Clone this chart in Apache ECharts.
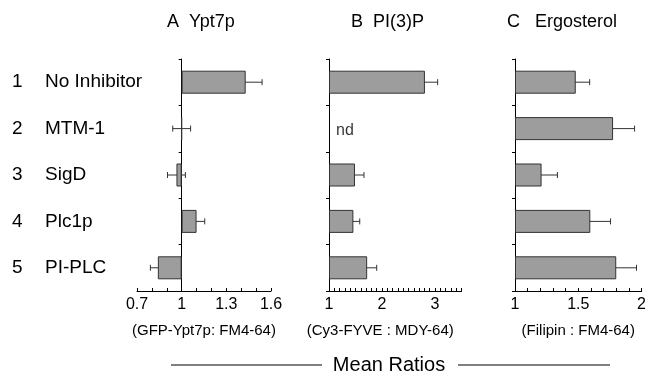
<!DOCTYPE html>
<html>
<head>
<meta charset="utf-8">
<script src="https://cdn.jsdelivr.net/npm/echarts@6/dist/echarts.min.js"></script>
<style>
html,body{margin:0;padding:0;background:#fff;}
#chart{width:649px;height:376px;}
</style>
</head>
<body>
<div id="chart"></div>
<script>
// ---- data ----
const rowNumbers = ['1', '2', '3', '4', '5'];
const categories = ['No Inhibitor', 'MTM-1', 'SigD', 'Plc1p', 'PI-PLC'];

const panelTitles = ['A  Ypt7p', 'B  PI(3)P', 'C   Ergosterol'];
const axisNames = ['(GFP-Ypt7p: FM4-64)', '(Cy3-FYVE : MDY-64)', '(Filipin : FM4-64)'];

const ypt7Values = [1.43, 1.0, 0.965, 1.10, 0.84];
const ypt7Errors = [0.11, 0.06, 0.06, 0.055, 0.05];

const pi3pValues = [2.81, null, 1.49, 1.46, 1.72];
const pi3pErrors = [0.24, null, 0.17, 0.12, 0.18];
const pi3pNotDetermined = ['MTM-1'];
const ndText = 'nd';

const ergoValues = [1.48, 1.775, 1.21, 1.595, 1.80];
const ergoErrors = [0.11, 0.17, 0.125, 0.16, 0.16];

const ypt7Ticks = [0.7, 1, 1.3, 1.6];
const pi3pTicks = [1, 2, 3];
const ergoTicks = [1, 1.5, 2];

const axisMin = [0.7, 1, 1];
const axisMax = [1.6, 3.5, 2];
const minorStep = [0.1, 0.1, 0.1];
const baseline = 1;
const footerText = 'Mean Ratios';

// ---- build ----
const panels = [
  {values: ypt7Values, errors: ypt7Errors, ticks: ypt7Ticks},
  {values: pi3pValues, errors: pi3pErrors, ticks: pi3pTicks},
  {values: ergoValues, errors: ergoErrors, ticks: ergoTicks}
];
const gridBoxes = [
  {left: 137, width: 134},
  {left: 329, width: 132.5},
  {left: 515, width: 132}
];
const FONT = 'Liberation Sans, Arial, sans-serif';

const grids = [], xAxes = [], yAxes = [], series = [];
panels.forEach((p, i) => {
  grids.push({left: gridBoxes[i].left, width: gridBoxes[i].width, top: 59, height: 232});
  const ticks = p.ticks;
  xAxes.push({
    type: 'value', gridIndex: i,
    min: axisMin[i] - baseline, max: axisMax[i] - baseline, interval: minorStep[i],
    splitLine: {show: false},
    axisLine: {show: true, onZero: false, lineStyle: {color: '#000', width: 1}},
    axisTick: {show: true, inside: true, length: 3, lineStyle: {color: '#000'}},
    axisLabel: {
      color: '#000', fontSize: 16, fontFamily: FONT, margin: 6,
      showMinLabel: true, showMaxLabel: true,
      formatter: v => {
        const real = +(v + baseline).toFixed(4);
        return ticks.some(t => Math.abs(t - real) < 1e-6) ? String(real) : '';
      }
    },
    name: axisNames[i], nameLocation: 'middle', nameGap: 32,
    nameTextStyle: {color: '#000', fontSize: 15, fontFamily: FONT,
      padding: i === 1 ? [0, 30, 0, 0] : [0, 0, 0, 0]}
  });
  yAxes.push({
    type: 'category', gridIndex: i, data: categories, inverse: true,
    axisLine: {show: true, onZero: true, lineStyle: {color: '#000', width: 1}},
    axisTick: {show: true, length: 3, lineStyle: {color: '#000'}},
    axisLabel: {show: false},
    splitLine: {show: false}
  });
  series.push({
    type: 'bar', xAxisIndex: i, yAxisIndex: i, barWidth: 23,
    data: p.values.map(v => v == null ? '-' : +(v - baseline).toFixed(4)),
    itemStyle: {color: '#9d9d9d', borderColor: '#333', borderWidth: 1},
    silent: true, animation: false
  });
  series.push({
    type: 'custom', xAxisIndex: i, yAxisIndex: i, animation: false, silent: true,
    encode: {x: [0, 1], y: 2},
    data: p.values.map((v, k) => v == null ? null :
      [+(v - p.errors[k] - baseline).toFixed(4), +(v + p.errors[k] - baseline).toFixed(4), k]).filter(d => d),
    renderItem: (params, api) => {
      const a = api.coord([api.value(0), api.value(2)]);
      const b = api.coord([api.value(1), api.value(2)]);
      const h = 3;
      const st = {stroke: '#333', lineWidth: 1};
      return {type: 'group', children: [
        {type: 'line', shape: {x1: a[0], y1: a[1], x2: b[0], y2: b[1]}, style: st},
        {type: 'line', shape: {x1: a[0], y1: a[1] - h, x2: a[0], y2: a[1] + h}, style: st},
        {type: 'line', shape: {x1: b[0], y1: b[1] - h, x2: b[0], y2: b[1] + h}, style: st}
      ]};
    }
  });
});

// "nd" marker in panel B
series.push({
  type: 'scatter', xAxisIndex: 1, yAxisIndex: 1, symbolSize: 0, silent: true, animation: false,
  data: pi3pNotDetermined.map(c => [0, c]),
  label: {show: true, position: 'right', distance: 7, formatter: ndText,
    color: '#000', fontSize: 16, fontFamily: FONT, offset: [0, 2]}
});

// row labels grid
grids.push({left: 5, width: 1, top: 59, height: 232});
xAxes.push({type: 'value', gridIndex: 3, show: false});
yAxes.push({
  type: 'category', gridIndex: 3, position: 'right', inverse: true,
  data: categories,
  axisLine: {show: false}, axisTick: {show: false},
  axisLabel: {
    margin: 6, align: 'left', color: '#000', fontFamily: FONT, fontSize: 19,
    formatter: (v, idx) => '{n|' + rowNumbers[idx] + '}{t|' + v + '}',
    rich: {
      n: {width: 33, fontSize: 19, fontFamily: FONT, color: '#000'},
      t: {fontSize: 19, fontFamily: FONT, color: '#000'}
    }
  }
});

const titleLefts = [162, 346, 502];
const chart = echarts.init(document.getElementById('chart'), null, {renderer: 'canvas'});
chart.setOption({
  animation: false,
  backgroundColor: '#fff',
  title: panelTitles.map((t, i) => ({
    text: t, left: titleLefts[i], top: 8,
    textStyle: {color: '#000', fontSize: 18, fontWeight: 'normal', fontFamily: FONT}
  })),
  grid: grids,
  xAxis: xAxes,
  yAxis: yAxes,
  series: series,
  graphic: [
    {type: 'line', shape: {x1: 171, y1: 365, x2: 322, y2: 365}, style: {stroke: '#000', lineWidth: 1}},
    {type: 'line', shape: {x1: 458, y1: 365, x2: 610, y2: 365}, style: {stroke: '#000', lineWidth: 1}},
    {type: 'text', x: 389, y: 365, style: {text: footerText, fill: '#000', fontSize: 20,
      fontFamily: FONT, align: 'center', verticalAlign: 'middle'}}
  ]
});
</script>
</body>
</html>
